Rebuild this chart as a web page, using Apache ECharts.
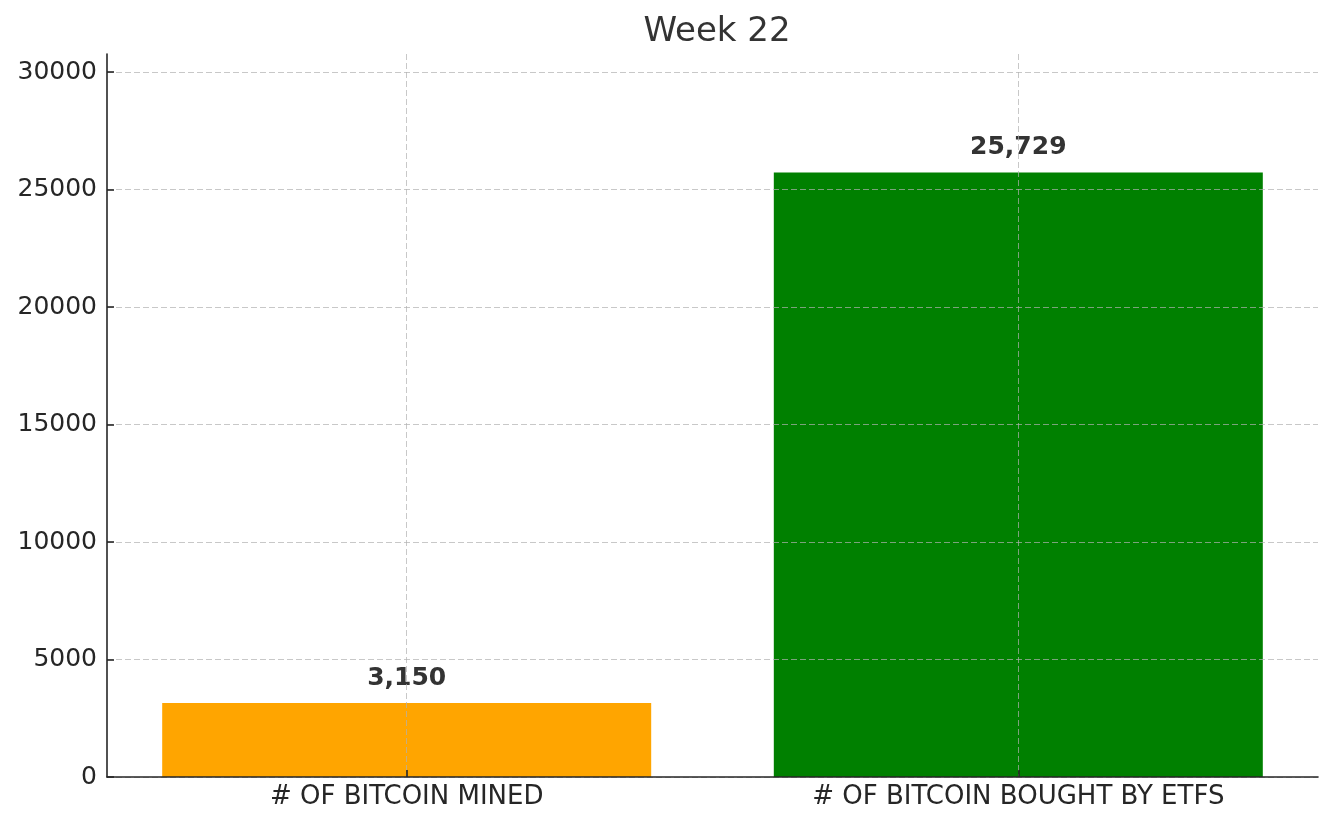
<!DOCTYPE html>
<html>
<head>
<meta charset="utf-8">
<script src="https://cdn.jsdelivr.net/npm/echarts@6/dist/echarts.min.js"></script>
<style>
html,body{margin:0;padding:0;background:#fff;}
#chart{width:1332px;height:826px;}
</style>
</head>
<body>
<div id="chart"></div>
<script>
const titleText = 'Week 22';
const categories = ['# OF BITCOIN MINED', '# OF BITCOIN BOUGHT BY ETFS'];
const values = [3150, 25729];
const barColors = ['#FFA500', '#008000'];
const yTicks = [0, 5000, 10000, 15000, 20000, 25000, 30000];
const xTicks = [0, 1];
const yMax = 30770;

const font = '"DejaVu Sans", sans-serif';
const gridLine = { color: 'rgba(176,176,176,0.7)', type: [6, 3], width: 1 };

const chart = echarts.init(document.getElementById('chart'));
chart.setOption({
  animation: false,
  backgroundColor: '#ffffff',
  title: {
    text: titleText,
    left: 712,
    textAlign: 'center',
    top: 10,
    textStyle: { fontFamily: font, fontSize: 34, fontWeight: 'normal', color: '#333333' }
  },
  grid: { left: 107, right: 14, top: 54, bottom: 49, containLabel: false },
  xAxis: {
    type: 'value',
    min: -0.49,
    max: 1.49,
    z: 5,
    axisLine: { show: true, onZero: false, lineStyle: { color: '#262626', width: 1.6 } },
    axisTick: { show: true, inside: true, length: 7, customValues: xTicks, lineStyle: { color: '#262626', width: 1.6 } },
    axisLabel: { fontFamily: font, fontSize: 26, color: '#262626', margin: 7, customValues: xTicks,
      formatter: v => categories[Math.round(v)] },
    splitLine: { show: true, lineStyle: gridLine }
  },
  yAxis: {
    type: 'value',
    min: 0,
    max: yMax,
    z: 5,
    axisLine: { show: true, onZero: false, lineStyle: { color: '#262626', width: 1.6 } },
    axisTick: { show: true, inside: true, length: 7, customValues: yTicks, lineStyle: { color: '#262626', width: 1.6 } },
    axisLabel: { fontFamily: font, fontSize: 25, color: '#262626', margin: 10, customValues: yTicks,
      formatter: v => String(v) },
    splitLine: { show: true, lineStyle: gridLine }
  },
  series: [{
    type: 'bar',
    barWidth: 489,
    data: values.map((v, i) => ({ value: [xTicks[i], v], itemStyle: { color: barColors[i] } })),
    label: {
      show: true,
      position: 'top',
      distance: 12,
      fontFamily: font,
      fontSize: 25,
      fontWeight: 'bold',
      color: '#333333',
      formatter: p => p.value[1].toLocaleString('en-US')
    }
  }]
});
</script>
</body>
</html>
